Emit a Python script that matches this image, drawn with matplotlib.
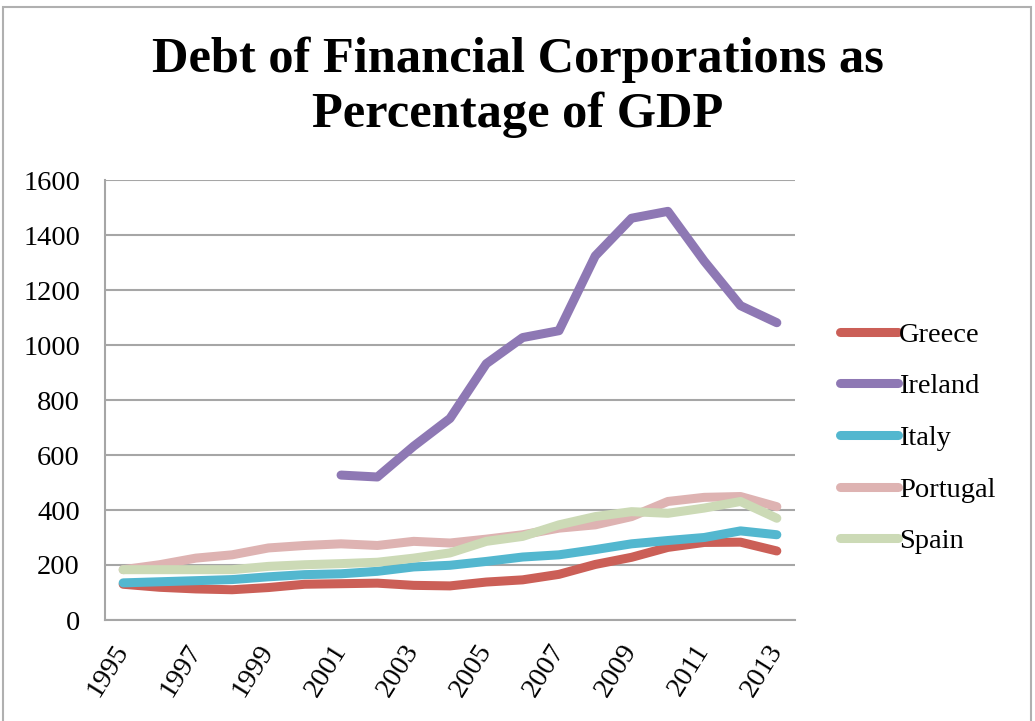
import matplotlib
matplotlib.use('Agg')
import matplotlib.pyplot as plt
from matplotlib.patches import Rectangle

# Series, one value per year (percent of GDP)
years = list(range(1995, 2014))
greece = [130, 119, 113, 110, 118, 130, 132, 134, 126, 124,
          138, 146, 166, 202, 228, 264, 282, 283, 251]
ireland_years = list(range(2001, 2014))
ireland = [527, 520, 632, 733, 932, 1027, 1052, 1324, 1461, 1486, 1305, 1143, 1081]
italy = [135, 139, 143, 147, 157, 165, 168, 177, 193, 199,
         213, 229, 237, 256, 277, 289, 300, 324, 310]
portugal = [183, 201, 225, 237, 262, 271, 277, 271, 286, 280,
            294, 310, 334, 346, 376, 431, 446, 449, 412]
spain = [183, 183, 183, 183, 195, 201, 205, 210, 225, 244,
         286, 304, 346, 376, 394, 388, 407, 431, 370]

FONT = 'Liberation Serif'
GRID = '#A6A6A6'
TICK_FS = 20.5

fig = plt.figure(figsize=(10.35, 7.21), dpi=100, facecolor='white')
ax = fig.add_axes([105 / 1035, 101 / 721, 690 / 1035, 440 / 721])

series = [
    ("Greece",   years,         greece,   '#CB5F57'),
    ("Ireland",  ireland_years, ireland,  '#8E78B4'),
    ("Italy",    years,         italy,    '#53B7CF'),
    ("Portugal", years,         portugal, '#DEB3B2'),
    ("Spain",    years,         spain,    '#CCDAB6'),
]
for name, xs, ys, col in series:
    idx = [y - years[0] for y in xs]
    ax.plot(idx, ys, color=col, lw=6.5, label=name,
            solid_capstyle='round', solid_joinstyle='round')

ax.set_xlim(-0.5, len(years) - 0.5)
ax.set_ylim(0, 1600)
ax.set_yticks(range(0, 1601, 200))
ax.set_yticklabels([str(v) for v in range(0, 1601, 200)],
                   fontfamily=FONT, fontsize=TICK_FS)
ax.yaxis.grid(True, color=GRID, lw=1.5)
ax.set_axisbelow(True)

ax.set_xticks(range(0, len(years), 2))
ax.set_xticklabels([str(y) for y in years[::2]], fontfamily=FONT, fontsize=TICK_FS,
                   rotation=58, ha='right', va='center', rotation_mode='anchor')
ax.tick_params(axis='y', length=0, pad=18)
ax.tick_params(axis='x', length=0, pad=19)

for side in ('top', 'right'):
    ax.spines[side].set_visible(False)
for side in ('left', 'bottom'):
    ax.spines[side].set_color(GRID)
    ax.spines[side].set_linewidth(1.5)

# Title
fig.text(0.5, 1 - 60 / 721, "Debt of Financial Corporations as",
         ha='center', va='center', fontfamily=FONT, fontweight='bold', fontsize=36.4)
fig.text(0.5, 1 - 115 / 721, "Percentage of GDP",
         ha='center', va='center', fontfamily=FONT, fontweight='bold', fontsize=36.4)

# Legend on the right
leg = fig.legend(loc='center left', bbox_to_anchor=(840 / 1035, 1 - 438 / 721),
                 frameon=False, borderpad=0, borderaxespad=0,
                 handlelength=2.05, handletextpad=0.03,
                 labelspacing=0.9, prop={'family': FONT, 'size': TICK_FS})

# Outer chart border
fig.patches.append(Rectangle((3 / 1035, -0.01), 1028 / 1035, 1.0,
                             transform=fig.transFigure, fill=False,
                             edgecolor='#B0B0B0', lw=1.5))

plt.savefig('out.png', dpi=100, facecolor='white')
plt.close()
